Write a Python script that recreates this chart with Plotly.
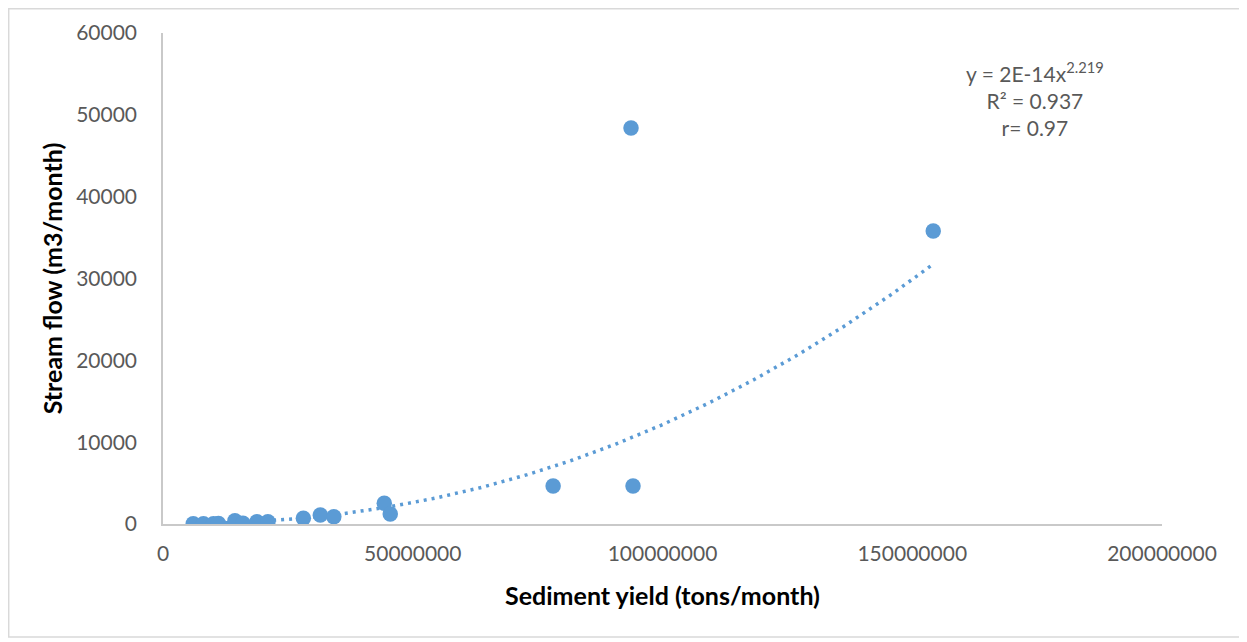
import numpy as np
import plotly.graph_objects as go

# Data
sediment_yield = [6.05e6, 8.1e6, 10.1e6, 11.1e6, 14.4e6, 16.0e6, 18.8e6, 21.0e6,
                  28.1e6, 31.5e6, 34.2e6, 44.3e6, 45.5e6, 78.1e6, 93.7e6, 94.1e6, 154.2e6]
stream_flow = [40, 30, 40, 60, 400, 80, 280, 280,
               700, 1100, 890, 2530, 1220, 4640, 48390, 4640, 35800]

# Power trendline y = a * x^b
trend_a = 2.15e-14
trend_b = 2.219

x_ticks = [0, 50000000, 100000000, 150000000, 200000000]
y_ticks = [0, 10000, 20000, 30000, 40000, 50000, 60000]

eq_text = "y = 2E-14x<sup>2.219</sup><br>R² = 0.937<br>r= 0.97"

FONT = "Lato, 'Open Sans', sans-serif"
BLUE = "#5B9BD5"
GRAY_TXT = "#595959"
AXIS_LINE = "#C9C9C9"

xs = np.linspace(min(sediment_yield), max(sediment_yield), 300)
ys = trend_a * xs ** trend_b

fig = go.Figure()
fig.add_trace(go.Scatter(
    x=xs, y=ys, mode="lines",
    line=dict(color=BLUE, width=3.5, dash="3px,5px"),
    hoverinfo="skip", showlegend=False,
))
fig.add_trace(go.Scatter(
    x=sediment_yield, y=stream_flow, mode="markers",
    marker=dict(color=BLUE, size=15.5, line=dict(width=0)),
    showlegend=False,
))

# The page body adds an 8px offset; figure coordinates below are window - 8
OFF = 8
W, H = 1247 - OFF, 642 - OFF
L, R, T, B = 163 - OFF, 85, 33 - OFF, 118
pw, ph = W - L - R, H - T - B

def px_x(wx):
    return (wx - OFF - L) / pw

def px_y(wy):
    return (H - B - (wy - OFF)) / ph

fig.add_annotation(
    x=px_x(1035), y=px_y(99), xref="paper", yref="paper", text=eq_text,
    showarrow=False, align="center", xanchor="center", yanchor="middle",
    font=dict(family=FONT, size=21, color=GRAY_TXT),
)

# outer border
fig.add_shape(
    type="rect", xref="paper", yref="paper",
    x0=px_x(8.7), x1=px_x(1245),
    y0=px_y(637), y1=px_y(8.7),
    line=dict(color="#D9D9D9", width=1.5), fillcolor="rgba(0,0,0,0)", layer="below",
)

fig.update_layout(
    width=W, height=H,
    margin=dict(l=L, r=R, t=T, b=B, pad=0),
    paper_bgcolor="white", plot_bgcolor="white",
    font=dict(family=FONT, size=21, color=GRAY_TXT),
    xaxis=dict(
        range=[0, 200000000], tickvals=x_ticks, tickformat="d",
        showgrid=False, zeroline=False, showline=True, linecolor=AXIS_LINE, linewidth=1.5,
        ticks="", ticklabelstandoff=10,
        title=dict(text="<b>Sediment yield (tons/month)</b>",
                   font=dict(family=FONT, size=25, color="black"), standoff=24),
    ),
    yaxis=dict(
        range=[0, 60000], tickvals=y_ticks, tickformat="d",
        showgrid=False, zeroline=False, showline=True, linecolor=AXIS_LINE, linewidth=1.5,
        ticks="", ticklabelstandoff=20,
        title=dict(text="<b>Stream flow (m3/month)</b>",
                   font=dict(family=FONT, size=25, color="black"), standoff=6),
    ),
)

fig.write_html("out.html")
